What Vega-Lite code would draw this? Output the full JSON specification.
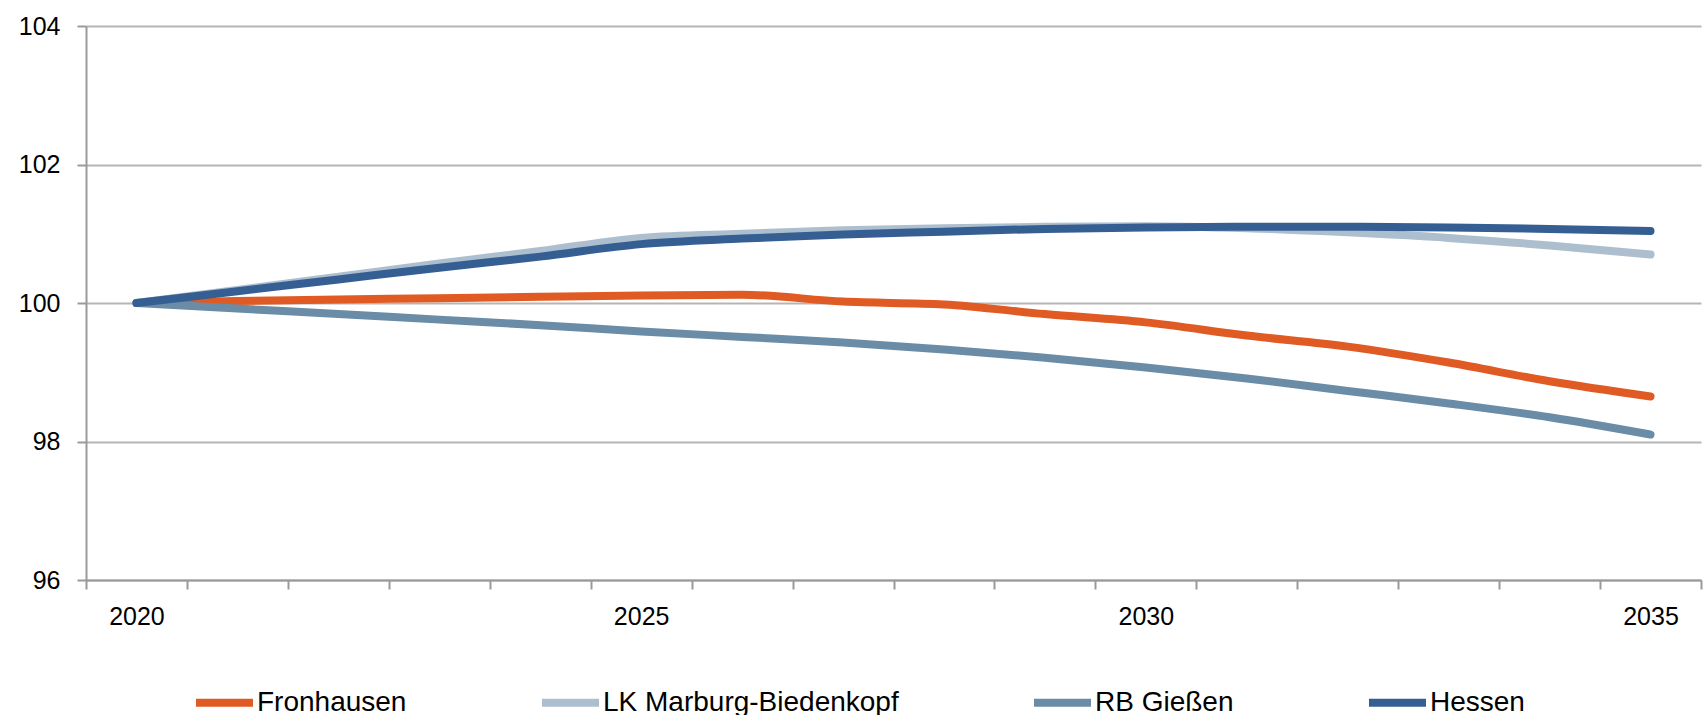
{
  "$schema": "https://vega.github.io/schema/vega-lite/v6.json",
  "width": 1615,
  "height": 554,
  "autosize": "none",
  "padding": {"left": 86, "top": 26, "right": 2, "bottom": 135},
  "config": {
    "view": {"stroke": null},
    "font": "Liberation Sans",
    "axis": {
      "labelFont": "Liberation Sans",
      "labelColor": "#000000",
      "labelFontSize": 25,
      "domainColor": "#9A9A9A",
      "domainWidth": 2,
      "tickColor": "#9A9A9A",
      "tickWidth": 2,
      "tickSize": 9,
      "gridColor": "#B5B5B5",
      "gridWidth": 2
    },
    "legend": {"labelFont": "Liberation Sans"}
  },
  "data": {
    "values": [
      {"year": 2020, "region": "Fronhausen", "value": 100},
      {"year": 2021, "region": "Fronhausen", "value": 100.03},
      {"year": 2022, "region": "Fronhausen", "value": 100.05},
      {"year": 2023, "region": "Fronhausen", "value": 100.07},
      {"year": 2024, "region": "Fronhausen", "value": 100.09},
      {"year": 2025, "region": "Fronhausen", "value": 100.11},
      {"year": 2026, "region": "Fronhausen", "value": 100.12},
      {"year": 2027, "region": "Fronhausen", "value": 100.02},
      {"year": 2028, "region": "Fronhausen", "value": 99.98},
      {"year": 2029, "region": "Fronhausen", "value": 99.84},
      {"year": 2030, "region": "Fronhausen", "value": 99.72},
      {"year": 2031, "region": "Fronhausen", "value": 99.53},
      {"year": 2032, "region": "Fronhausen", "value": 99.37},
      {"year": 2033, "region": "Fronhausen", "value": 99.14},
      {"year": 2034, "region": "Fronhausen", "value": 98.87},
      {"year": 2035, "region": "Fronhausen", "value": 98.65},
      {"year": 2020, "region": "LK Marburg-Biedenkopf", "value": 100},
      {"year": 2021, "region": "LK Marburg-Biedenkopf", "value": 100.19},
      {"year": 2022, "region": "LK Marburg-Biedenkopf", "value": 100.38},
      {"year": 2023, "region": "LK Marburg-Biedenkopf", "value": 100.57},
      {"year": 2024, "region": "LK Marburg-Biedenkopf", "value": 100.75},
      {"year": 2025, "region": "LK Marburg-Biedenkopf", "value": 100.94},
      {"year": 2026, "region": "LK Marburg-Biedenkopf", "value": 101.0},
      {"year": 2027, "region": "LK Marburg-Biedenkopf", "value": 101.05},
      {"year": 2028, "region": "LK Marburg-Biedenkopf", "value": 101.08},
      {"year": 2029, "region": "LK Marburg-Biedenkopf", "value": 101.1},
      {"year": 2030, "region": "LK Marburg-Biedenkopf", "value": 101.11},
      {"year": 2031, "region": "LK Marburg-Biedenkopf", "value": 101.08},
      {"year": 2032, "region": "LK Marburg-Biedenkopf", "value": 101.02},
      {"year": 2033, "region": "LK Marburg-Biedenkopf", "value": 100.94},
      {"year": 2034, "region": "LK Marburg-Biedenkopf", "value": 100.83},
      {"year": 2035, "region": "LK Marburg-Biedenkopf", "value": 100.7},
      {"year": 2020, "region": "RB Gießen", "value": 100},
      {"year": 2021, "region": "RB Gießen", "value": 99.92},
      {"year": 2022, "region": "RB Gießen", "value": 99.84},
      {"year": 2023, "region": "RB Gießen", "value": 99.76},
      {"year": 2024, "region": "RB Gießen", "value": 99.68},
      {"year": 2025, "region": "RB Gießen", "value": 99.59},
      {"year": 2026, "region": "RB Gießen", "value": 99.51},
      {"year": 2027, "region": "RB Gießen", "value": 99.43},
      {"year": 2028, "region": "RB Gießen", "value": 99.33},
      {"year": 2029, "region": "RB Gießen", "value": 99.21},
      {"year": 2030, "region": "RB Gießen", "value": 99.07},
      {"year": 2031, "region": "RB Gießen", "value": 98.91},
      {"year": 2032, "region": "RB Gießen", "value": 98.73},
      {"year": 2033, "region": "RB Gießen", "value": 98.55},
      {"year": 2034, "region": "RB Gießen", "value": 98.35},
      {"year": 2035, "region": "RB Gießen", "value": 98.1},
      {"year": 2020, "region": "Hessen", "value": 100},
      {"year": 2021, "region": "Hessen", "value": 100.17},
      {"year": 2022, "region": "Hessen", "value": 100.34},
      {"year": 2023, "region": "Hessen", "value": 100.51},
      {"year": 2024, "region": "Hessen", "value": 100.67},
      {"year": 2025, "region": "Hessen", "value": 100.85},
      {"year": 2026, "region": "Hessen", "value": 100.93},
      {"year": 2027, "region": "Hessen", "value": 100.99},
      {"year": 2028, "region": "Hessen", "value": 101.03},
      {"year": 2029, "region": "Hessen", "value": 101.07},
      {"year": 2030, "region": "Hessen", "value": 101.09},
      {"year": 2031, "region": "Hessen", "value": 101.1},
      {"year": 2032, "region": "Hessen", "value": 101.1},
      {"year": 2033, "region": "Hessen", "value": 101.09},
      {"year": 2034, "region": "Hessen", "value": 101.07},
      {"year": 2035, "region": "Hessen", "value": 101.04}
    ]
  },
  "mark": {
    "type": "line",
    "strokeWidth": 8,
    "strokeCap": "round",
    "strokeJoin": "round",
    "interpolate": "monotone"
  },
  "encoding": {
    "x": {
      "field": "year",
      "type": "ordinal",
      "scale": {"type": "band", "paddingInner": 0, "paddingOuter": 0},
      "bandPosition": 0.5,
      "axis": {
        "title": null,
        "labelAngle": 0,
        "tickBand": "extent",
        "labelPadding": 15,
        "labelOverlap": false,
        "labelExpr": "datum.value % 5 == 0 ? datum.label : ''",
        "grid": false
      }
    },
    "y": {
      "field": "value",
      "type": "quantitative",
      "scale": {"domain": [96, 104], "nice": false, "zero": false},
      "axis": {
        "title": null,
        "values": [96, 98, 100, 102, 104],
        "grid": true,
        "labelPadding": 17
      }
    },
    "color": {
      "field": "region",
      "type": "nominal",
      "scale": {
        "domain": ["Fronhausen", "LK Marburg-Biedenkopf", "RB Gießen", "Hessen"],
        "range": ["#E05A23", "#ADBFCE", "#6A8CA6", "#355F93"]
      },
      "legend": {
        "orient": "none",
        "legendX": 106,
        "legendY": 644,
        "direction": "horizontal",
        "title": null,
        "symbolType": "stroke",
        "symbolSize": 3249,
        "symbolStrokeWidth": 8,
        "labelFontSize": 28,
        "labelColor": "#000000",
        "labelOffset": 0,
        "labelLimit": 600,
        "columnPadding": 119,
        "padding": 0
      }
    }
  }
}
